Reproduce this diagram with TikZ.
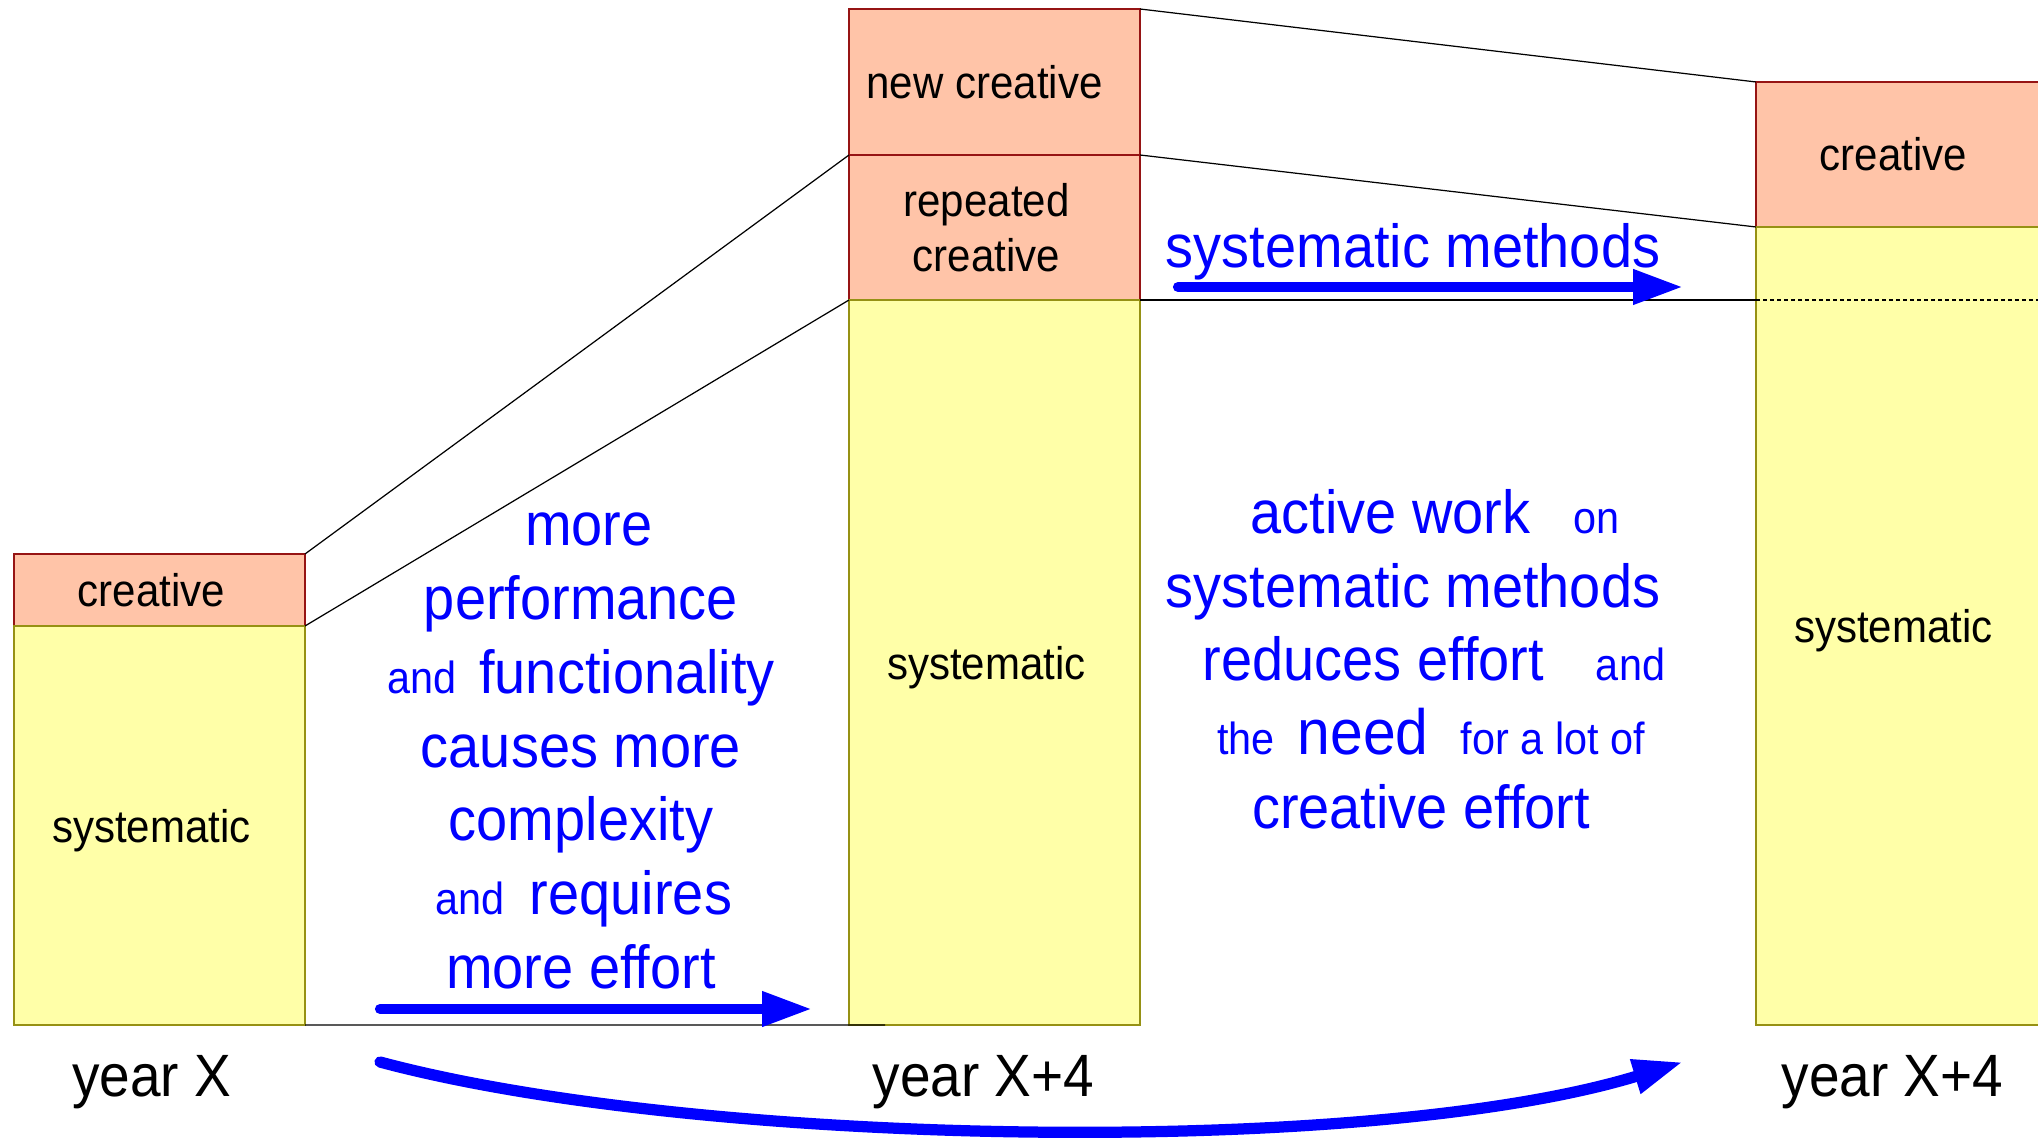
\documentclass[tikz,border=0pt]{standalone}
\usepackage{fontspec}
\setmainfont{Liberation Sans}[FakeStretch=0.92]
\usetikzlibrary{positioning, calc, arrows.meta}

\definecolor{creafill}{RGB}{255,196,168}
\definecolor{crealine}{RGB}{150,20,20}
\definecolor{systfill}{RGB}{255,255,168}
\definecolor{systline}{RGB}{150,145,20}

\newcommand{\bigtxt}{\fontsize{17.3}{20}\selectfont}
\newcommand{\yeartxt}{\fontsize{17}{20}\selectfont}
\newcommand{\smtxt}{\fontsize{12.8}{15}\selectfont}
\newcommand{\lbltxt}{\fontsize{13}{15.6}\selectfont}
\newcommand{\needtxt}{\fontsize{18.2}{22}\selectfont}

\tikzset{
    box/.style={draw, line width=0.4pt, minimum width=2.91cm, inner sep=0pt, outer sep=0pt, font=\lbltxt},
    lblbox/.style={box, execute at end node={\hspace*{0.16cm}}},
    crea/.style={fill=creafill, draw=crealine},
    syst/.style={fill=systfill, draw=systline, text depth=0pt},
    conn/.style={line width=0.35pt},
    bluetxt/.style={text=blue, font=\bigtxt, anchor=base, inner sep=0pt},
    yearlbl/.style={font=\yeartxt, anchor=base, inner sep=0pt},
    fatarrow/.style={draw=blue, line width=2.9pt, line cap=round,
        -{Triangle[length=0.5cm, width=0.33cm]}},
}

\begin{document}
\begin{tikzpicture}
    \useasboundingbox (0,0) rectangle (20.38,-11.38);
    \clip (0,0) rectangle (20.38,-11.38);

    % year X
    \node [lblbox, crea, minimum height=0.72cm, anchor=north west] (lc) at (0.14,-5.54) {creative};
    \node [lblbox, syst, minimum height=3.99cm, below=0pt of lc] (ls) {systematic};

    % year X+4 (more effort)
    \node [lblbox, crea, minimum height=1.46cm, anchor=north west] (nc) at (8.49,-0.09) {new creative\hspace*{0.04cm}};
    \node [box, crea, minimum height=1.45cm, align=center, below=0pt of nc] (rc) {repeated\hspace*{0.16cm}\\creative\hspace*{0.16cm}};
    \node [lblbox, syst, minimum height=7.25cm, below=0pt of rc] (ms) {systematic};

    % year X+4 (systematic methods)
    \node [lblbox, crea, minimum height=1.45cm, anchor=north west] (rcr) at (17.56,-0.82) {creative};
    \node [lblbox, syst, minimum height=7.98cm, below=0pt of rcr] (rs) {systematic};

    \node [yearlbl] (yx) at ([xshift=-0.08cm, yshift=-0.71cm]ls.south) {year X};
    \node [yearlbl] (ym) at ([xshift=-0.11cm, yshift=-0.71cm]ms.south) {year X+4};
    \node [yearlbl] (yr) at ([xshift=-0.09cm, yshift=-0.71cm]rs.south) {year X+4};

    % connectors
    \coordinate (dashstart) at (rs.west |- ms.north);
    \coordinate (baseend) at ([xshift=0.36cm]ms.south west);
    \draw [conn] (lc.north east) -- (rc.north west);
    \draw [conn] (lc.south east) -- (ms.north west);
    \draw [conn] (nc.north east) -- (rcr.north west);
    \draw [conn] (rc.north east) -- (rs.north west);
    \draw [conn] (ms.north east) -- (dashstart);
    \draw [conn, dash pattern=on 0.04cm off 0.03cm] (dashstart) -- (dashstart -| rs.east);
    \draw [conn] (ls.south east) -- (baseend);

    % left text
    \node [bluetxt] (m1) at (5.89,-5.46) {more};
    \node [bluetxt] (m2) at ([xshift=-0.08cm, yshift=-0.737cm]m1.base) {performance};
    \node [bluetxt] (m3) at ([yshift=-0.737cm]m2.base) {{\smtxt and}\hspace{0.23cm}functionality};
    \node [bluetxt] (m4) at ([yshift=-0.737cm]m3.base) {causes more};
    \node [bluetxt] (m5) at ([yshift=-0.737cm]m4.base) {complexity};
    \node [bluetxt] (m6) at ([xshift=0.03cm, yshift=-0.737cm]m5.base) {{\smtxt and}\hspace{0.25cm}requires};
    \node [bluetxt] (m7) at ([xshift=-0.03cm, yshift=-0.737cm]m6.base) {more effort};

    % right text
    \node [bluetxt] (sm) at (14.13,-2.68) {systematic methods};
    \node [bluetxt] (r1) at (14.35,-5.34) {active work\hspace{0.43cm}{\smtxt on}};
    \node [bluetxt] (r2) at ([xshift=-0.22cm, yshift=-0.735cm]r1.base) {systematic methods};
    \node [bluetxt] (r3) at ([xshift=0.21cm, yshift=-0.735cm]r2.base) {reduces effort\hspace{0.52cm}{\smtxt and}};
    \node [bluetxt] (r4) at ([xshift=-0.03cm, yshift=-0.735cm]r3.base) {{\smtxt the}\hspace{0.23cm}{\needtxt need}\hspace{0.32cm}{\smtxt for a lot of}};
    \node [bluetxt] (r5) at ([xshift=-0.10cm, yshift=-0.735cm]r4.base) {creative effort};

    % arrows
    \coordinate (a1s) at (3.80,-10.09);
    \coordinate (a1e) at (8.12,-10.09);
    \coordinate (a2s) at (11.78,-2.87);
    \coordinate (a2e) at (16.83,-2.87);
    \coordinate (a3s) at (3.80,-10.62);
    \coordinate (a3e) at (16.83,-10.62);
    \draw [fatarrow] (a1s) -- (a1e);
    \draw [fatarrow] (a2s) -- (a2e);
    \draw [fatarrow, line width=3.2pt] (a3s) to [out=-15, in=197, looseness=0.65] (a3e);
\end{tikzpicture}
\end{document}
